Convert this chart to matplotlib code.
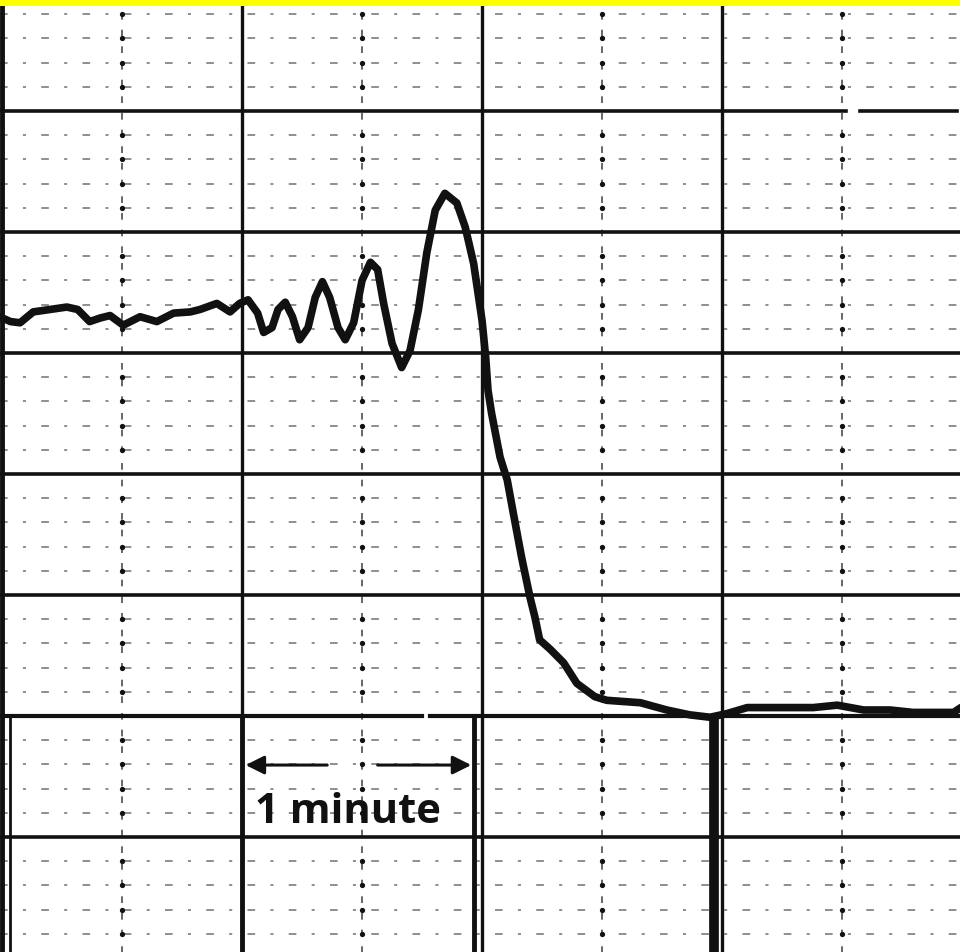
import numpy as np
import matplotlib.pyplot as plt

# ------------------------------------------------------
# TRACE DATA (chart divisions: x = time div, y = signal div)
# ------------------------------------------------------

trace_x = [-0.02, 0.07, 0.15, 0.26, 0.40, 0.54, 0.63, 0.73, 0.82, 0.90,
           1.01, 1.15, 1.29, 1.43, 1.57, 1.65, 1.79, 1.90, 1.98, 2.05,
           2.13, 2.18, 2.25, 2.30, 2.36, 2.42, 2.48, 2.55, 2.61, 2.67,
           2.73, 2.80, 2.86, 2.93, 3.00, 3.07, 3.13, 3.18, 3.25, 3.33,
           3.40, 3.47, 3.54, 3.61, 3.69, 3.79, 3.86, 3.93, 4.00, 4.03,
           4.05, 4.08, 4.15, 4.21, 4.26, 4.33, 4.40, 4.44, 4.48, 4.57,
           4.68, 4.79, 4.94, 5.04, 5.32, 5.54, 5.73, 5.90, 6.04, 6.21,
           6.48, 6.76, 6.96, 7.18, 7.40, 7.59, 7.86, 7.93, 7.99]
trace_y = [3.30, 3.26, 3.25, 3.34, 3.36, 3.38, 3.36, 3.26, 3.29, 3.31,
           3.23, 3.30, 3.26, 3.33, 3.34, 3.36, 3.41, 3.34, 3.41, 3.44,
           3.33, 3.17, 3.21, 3.36, 3.42, 3.30, 3.11, 3.21, 3.46, 3.59,
           3.46, 3.21, 3.11, 3.25, 3.60, 3.75, 3.69, 3.41, 3.08, 2.88,
           3.02, 3.36, 3.83, 4.18, 4.32, 4.24, 4.04, 3.74, 3.27, 2.97,
           2.69, 2.50, 2.14, 1.95, 1.68, 1.31, 0.98, 0.82, 0.63, 0.55,
           0.44, 0.27, 0.16, 0.13, 0.11, 0.05, 0.01, -0.01, 0.02, 0.07,
           0.07, 0.07, 0.09, 0.05, 0.05, 0.03, 0.03, 0.03, 0.07]

# grid layout of the recorder paper
major_h = [-1, 0, 1, 2, 3, 4, 5]
minor_h = [v / 5 for v in range(-9, 30) if v % 5 != 0]
major_v = [0, 2, 4, 6]
minor_v = [1, 3, 5, 7]
marker_v = [0.07, 2.0, 3.93, 5.93]          # timing marks below baseline
marker_w = [2.0, 3.5, 3.5, 7.0]

minute_start, minute_end = 2.03, 3.91
minute_tails = [2.71, 3.13]
minute_label = "1 minute"

# ------------------------------------------------------
# FIGURE
# ------------------------------------------------------

fig = plt.figure(figsize=(9.6, 9.52), dpi=100)
fig.patch.set_facecolor('#ffff00')
ax = fig.add_axes([0, 0, 1, 946 / 952])
ax.set_facecolor('white')
ax.set_xlim(-0.017, 7.983)
ax.set_ylim(-1.95, 5.868)
ax.set_xticks([])
ax.set_yticks([])
for s in ax.spines.values():
    s.set_visible(False)

ink = '#111111'

# minor grid
for y in minor_h:
    ax.plot([-0.02, 8.0], [y, y], color=ink, lw=1.1, dashes=(5, 10, 2, 10), alpha=0.6)
for x in minor_v:
    ax.plot([x, x], [-2, 6], color=ink, lw=1.2, dashes=(4, 6), alpha=0.75)
    ax.plot([x] * len(minor_h), minor_h, 'o', color=ink, ms=3.8, mec='none')

# major grid
for y in major_h:
    if y == 0:
        ax.plot([-0.02, 3.5], [y, y], color=ink, lw=3.0)
        ax.plot([3.57, 8.0], [y, y], color=ink, lw=3.0)
    elif y == 5:
        ax.plot([-0.02, 7.03], [y, y], color=ink, lw=2.6)
        ax.plot([7.15, 7.96], [y, y], color=ink, lw=2.6)
    else:
        ax.plot([-0.02, 8.0], [y, y], color=ink, lw=2.6)
for x in major_v:
    ax.plot([x, x], [-2, 6], color=ink, lw=2.4 if x else 3.5)
    ax.plot([x] * len(minor_h), minor_h, '|', color=ink, ms=5, mew=2)

# timing marks below the zero line
for x, w in zip(marker_v, marker_w):
    ax.plot([x, x], [-2, 0], color=ink, lw=w, solid_capstyle='butt')

# 1 minute span
for tip, tail in zip([minute_start, minute_end], minute_tails):
    ax.annotate('', xy=(tip, -0.405), xytext=(tail, -0.405),
                arrowprops=dict(arrowstyle='-|>', color=ink, lw=2.2,
                                mutation_scale=28, shrinkA=0, shrinkB=0))
ax.text(2.88, -0.884, minute_label, ha='center', va='baseline',
        fontsize=30, fontweight='bold', family='Open Sans', color=ink)

# recorder trace
ax.plot(trace_x, trace_y, color=ink, lw=5.5, solid_joinstyle='round',
        solid_capstyle='round', zorder=5)

fig.savefig('out.png', dpi=100, facecolor=fig.get_facecolor())
